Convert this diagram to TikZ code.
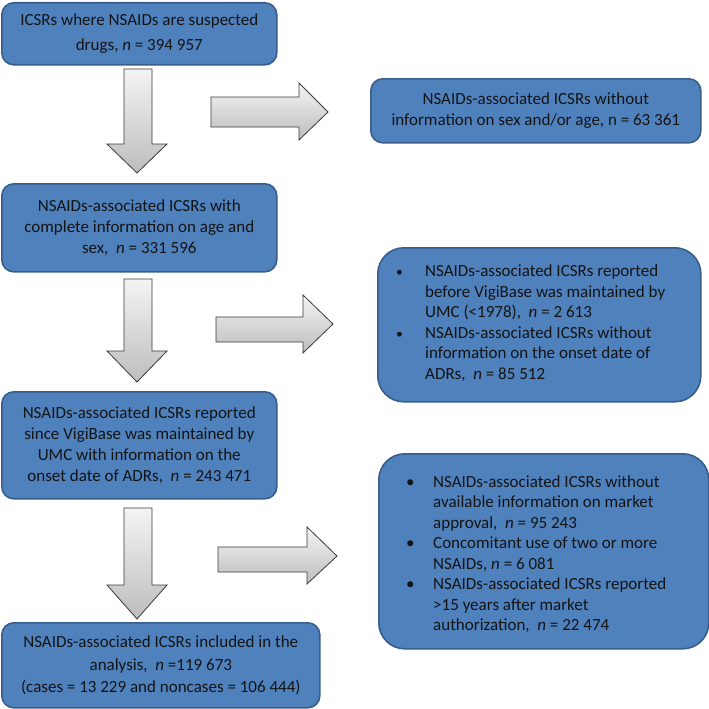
\documentclass[tikz,border=0pt]{standalone}
\usepackage{fontspec}
\setmainfont{Carlito}
\definecolor{boxblue}{HTML}{4F81BD}
\definecolor{boxborder}{HTML}{385D8A}
\definecolor{textcol}{HTML}{141414}
\definecolor{arrowline}{HTML}{3A3A3A}
\definecolor{arrowtop}{HTML}{F4F4F4}
\definecolor{arrowbot}{HTML}{BDBDBD}
\begin{document}
\begin{tikzpicture}[x=1pt,y=-1pt,
  box/.style={draw=boxborder, fill=boxblue, line width=1.6pt, rounded corners=12pt,
    anchor=north west, inner sep=0pt, align=center, text=textcol,
    font=\fontsize{17}{21}\selectfont},
  bigbox/.style={box, rounded corners=26pt},
  txt/.style={inner sep=0pt, anchor=west, align=left, text=textcol,
    font=\fontsize{17}{20.5}\selectfont},
  blockarrow/.style={draw=arrowline, line width=0.8pt, top color=arrowtop,
    bottom color=arrowbot, line join=miter}]
\useasboundingbox (0,0) rectangle (709,709);

% left column boxes
\node[box, minimum width=275pt, minimum height=62pt,
  font=\fontsize{17}{25}\selectfont] (b1) at (1,2)
  {ICSRs where NSAIDs are suspected\\drugs, \textit{n} = 394 957};
\node[box, minimum width=275pt, minimum height=88pt] (b2) at (1,183)
  {NSAIDs-associated ICSRs with\\complete information on age and\\sex,\ \ \textit{n} = 331 596};
\node[box, minimum width=275pt, minimum height=107pt] (b3) at (1,391)
  {NSAIDs-associated ICSRs reported\\since VigiBase was maintained by\\UMC with information on the\\onset date of ADRs,\ \ \textit{n} = 243 471};
\node[box, minimum width=318pt, minimum height=85pt,
  font=\fontsize{17}{22.5}\selectfont] (b4) at (1,622)
  {NSAIDs-associated ICSRs included in the\\analysis,\ \ \textit{n} =119 673\\(cases = 13 229 and noncases = 106 444)};

% right column boxes
\node[box, minimum width=330pt, minimum height=64pt] (r1) at (370,78)
  {NSAIDs-associated ICSRs without\\information on sex and/or age, n = 63 361};
\node[bigbox, minimum width=323pt, minimum height=154pt] (r2) at (377,247) {};
\node[txt] (r2t) at (396,324) {\renewcommand\arraystretch{1}%
  \begin{tabular}{@{}l@{}l@{}}
  \makebox[29pt][l]{\scalebox{0.8}{\textbullet}} & NSAIDs-associated ICSRs reported\\
  & before VigiBase was maintained by\\
  & UMC (<1978),\ \ \textit{n} = 2 613\\
  \makebox[29pt][l]{\scalebox{0.8}{\textbullet}} & NSAIDs-associated ICSRs without\\
  & information on the onset date of\\
  & ADRs,\ \ \textit{n} = 85 512
  \end{tabular}};
\node[bigbox, minimum width=330pt, minimum height=195pt] (r3) at (378,453) {};
\node[txt] (r3t) at (406,555) {\renewcommand\arraystretch{1}%
  \begin{tabular}{@{}l@{}l@{}}
  \makebox[27pt][l]{\textbullet} & NSAIDs-associated ICSRs without\\
  & available information on market\\
  & approval,\ \ \textit{n} = 95 243\\
  \makebox[27pt][l]{\textbullet} & Concomitant use of two or more\\
  & NSAIDs, \textit{n} = 6 081\\
  \makebox[27pt][l]{\textbullet} & NSAIDs-associated ICSRs reported\\
  & >15 years after market\\
  & authorization,\ \ \textit{n} = 22 474
  \end{tabular}};

% down arrows
\draw[blockarrow] (124,69) -- (152,69) -- (152,144) -- (167,144) -- (137,173)
  -- (107,144) -- (124,144) -- cycle;
\draw[blockarrow] (124,279) -- (152,279) -- (152,351) -- (167,351) -- (137,382)
  -- (107,351) -- (124,351) -- cycle;
\draw[blockarrow] (124,508) -- (152,508) -- (152,585) -- (167,585) -- (137,619)
  -- (107,585) -- (124,585) -- cycle;

% right arrows
\draw[blockarrow] (211,97) -- (299,97) -- (299,83) -- (328,112) -- (299,140)
  -- (299,127) -- (211,127) -- cycle;
\draw[blockarrow] (216,317) -- (303,317) -- (303,295) -- (333,324) -- (303,353)
  -- (303,342) -- (216,342) -- cycle;
\draw[blockarrow] (218,547) -- (307,547) -- (307,527) -- (337,556) -- (307,584)
  -- (307,572) -- (218,572) -- cycle;
\end{tikzpicture}
\end{document}
